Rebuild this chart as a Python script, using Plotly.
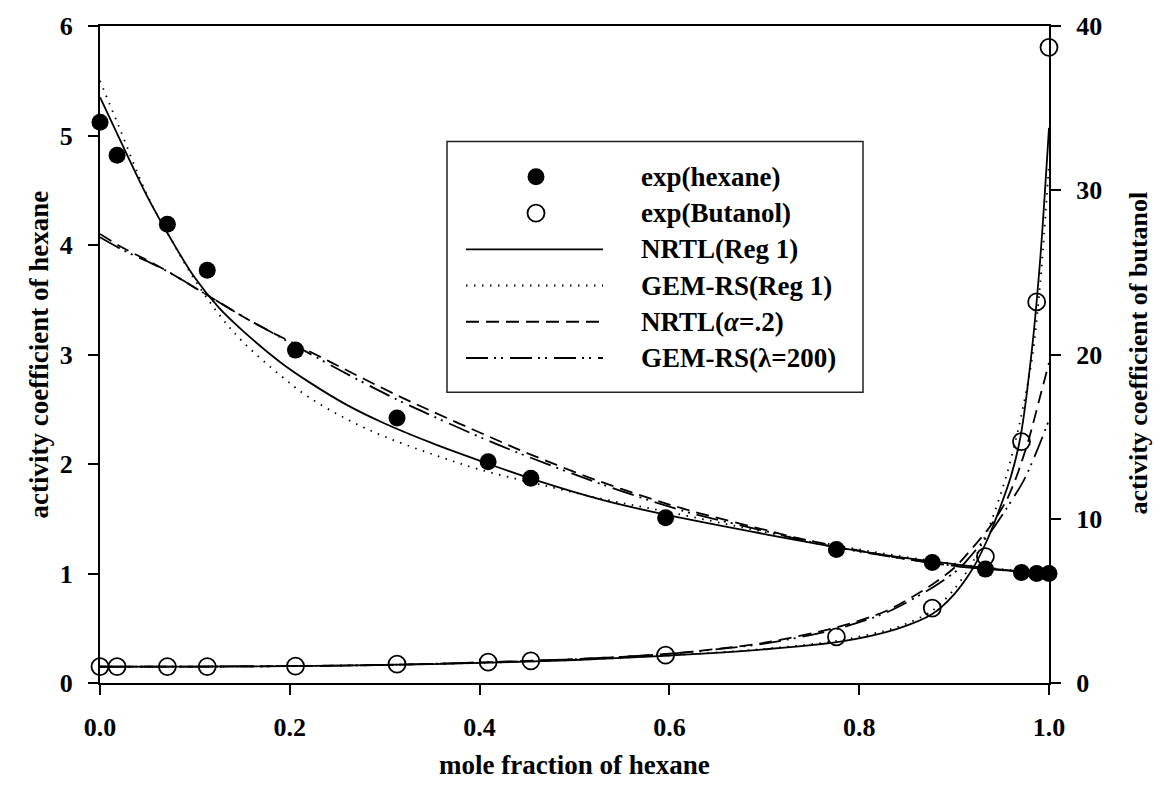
import plotly.graph_objects as go

# ---- experimental data (mole fraction of hexane) ----
x_exp = [0.0, 0.018, 0.071, 0.113, 0.206, 0.313, 0.409, 0.454, 0.596, 0.776, 0.877, 0.933, 0.971, 0.987, 1.0]
gamma_hexane_exp = [5.12, 4.82, 4.19, 3.77, 3.04, 2.42, 2.02, 1.87, 1.51, 1.22, 1.10, 1.04, 1.01, 1.00, 1.00]
gamma_butanol_exp = [1.0, 1.0, 1.0, 1.0, 1.03, 1.15, 1.27, 1.35, 1.70, 2.81, 4.56, 7.7, 14.7, 23.2, 38.7]

# ---- model curves, hexane (left axis) ----
x_nrtl1_hex = [0, 0.02, 0.05, 0.075, 0.1, 0.125, 0.15, 0.19, 0.22, 0.26, 0.30, 0.35, 0.40, 0.46, 0.53, 0.60, 0.70, 0.78, 0.85, 0.90, 0.95, 1.0]
y_nrtl1_hex = [5.35, 4.98, 4.44, 4.05, 3.70, 3.43, 3.22, 2.93, 2.75, 2.54, 2.37, 2.19, 2.03, 1.85, 1.67, 1.53, 1.36, 1.235, 1.14, 1.085, 1.035, 1.0]

x_gem1_hex = [0, 0.02, 0.05, 0.075, 0.1, 0.125, 0.15, 0.19, 0.22, 0.26, 0.30, 0.35, 0.40, 0.46, 0.53, 0.60, 0.70, 0.78, 0.85, 0.90, 0.95, 1.0]
y_gem1_hex = [5.50, 5.08, 4.45, 4.05, 3.68, 3.37, 3.12, 2.81, 2.61, 2.41, 2.25, 2.09, 1.95, 1.82, 1.68, 1.56, 1.38, 1.25, 1.15, 1.09, 1.04, 1.0]

x_nrtl2_hex = [0, 0.025, 0.05, 0.075, 0.1, 0.125, 0.15, 0.175, 0.2, 0.25, 0.3125, 0.35, 0.41, 0.45, 0.527, 0.6, 0.632, 0.7, 0.737, 0.8, 0.843, 0.9, 0.95, 1.0]
y_nrtl2_hex = [4.10, 3.97, 3.86, 3.74, 3.61, 3.48, 3.35, 3.23, 3.12, 2.90, 2.63, 2.48, 2.25, 2.10, 1.84, 1.63, 1.55, 1.40, 1.32, 1.21, 1.14, 1.07, 1.03, 1.0]

x_gem2_hex = [0, 0.025, 0.05, 0.075, 0.1, 0.125, 0.15, 0.175, 0.2, 0.25, 0.3125, 0.35, 0.41, 0.45, 0.527, 0.6, 0.632, 0.7, 0.737, 0.8, 0.843, 0.9, 0.95, 1.0]
y_gem2_hex = [4.07, 3.95, 3.85, 3.74, 3.61, 3.48, 3.35, 3.23, 3.11, 2.87, 2.59, 2.44, 2.21, 2.07, 1.82, 1.61, 1.53, 1.39, 1.31, 1.20, 1.14, 1.07, 1.03, 1.0]

# ---- model curves, butanol (right axis) ----
x_nrtl1_but = [0, 0.1, 0.2, 0.3, 0.4, 0.5, 0.6, 0.7, 0.78, 0.84, 0.877, 0.9, 0.92, 0.934, 0.946, 0.96, 0.97, 0.982, 0.991, 1.0]
y_nrtl1_but = [0.99, 1.0, 1.03, 1.1, 1.22, 1.40, 1.67, 2.05, 2.52, 3.3, 4.2, 5.4, 7.0, 8.6, 10.3, 12.6, 15.0, 20.3, 26.0, 33.8]

x_gem1_but = [0, 0.1, 0.2, 0.3, 0.4, 0.5, 0.6, 0.7, 0.78, 0.84, 0.877, 0.9, 0.92, 0.9375, 0.955, 0.969, 0.982, 0.991, 1.0]
y_gem1_but = [0.99, 1.0, 1.03, 1.1, 1.22, 1.40, 1.68, 2.08, 2.6, 3.4, 4.4, 5.7, 7.4, 9.6, 12.6, 15.8, 19.7, 24.5, 31.6]

x_nrtl2_but = [0, 0.1, 0.2, 0.3, 0.4, 0.5, 0.6, 0.7, 0.777, 0.829, 0.877, 0.9, 0.913, 0.9375, 0.955, 0.966, 0.979, 0.99, 1.0]
y_nrtl2_but = [1.0, 1.0, 1.03, 1.1, 1.25, 1.45, 1.78, 2.45, 3.4, 4.4, 6.0, 7.0, 7.8, 9.5, 11.1, 12.6, 14.9, 17.3, 19.5]

x_gem2_but = [0, 0.1, 0.2, 0.3, 0.4, 0.5, 0.6, 0.7, 0.777, 0.829, 0.877, 0.906, 0.92, 0.941, 0.955, 0.974, 0.987, 1.0]
y_gem2_but = [1.0, 1.0, 1.03, 1.1, 1.25, 1.45, 1.78, 2.4, 3.3, 4.3, 5.8, 7.0, 7.9, 9.4, 10.6, 12.4, 14.1, 16.0]

# ---- tick labels ----
x_ticks = [0.0, 0.2, 0.4, 0.6, 0.8, 1.0]
x_tick_text = ["0.0", "0.2", "0.4", "0.6", "0.8", "1.0"]
y_ticks = [0, 1, 2, 3, 4, 5, 6]
y2_ticks = [0, 10, 20, 30, 40]

# ---- legend labels ----
legend_labels = ["exp(hexane)", "exp(Butanol)", "NRTL(Reg 1)", "GEM-RS(Reg 1)",
                 "NRTL(<i>α</i>=.2)", "GEM-RS(λ=200)"]

FONT = "Liberation Serif"
BLACK = "#000000"
LW = 1.8
DASH_DOT = "1.5px,6.5px"
DASH_DASH = "13px,7px"
DASH_DDOT = "22px,6px,2px,5px,2px,7px"

fig = go.Figure()

model_styles = [
    (x_nrtl1_hex, y_nrtl1_hex, x_nrtl1_but, y_nrtl1_but, "solid"),
    (x_gem1_hex, y_gem1_hex, x_gem1_but, y_gem1_but, DASH_DOT),
    (x_nrtl2_hex, y_nrtl2_hex, x_nrtl2_but, y_nrtl2_but, DASH_DASH),
    (x_gem2_hex, y_gem2_hex, x_gem2_but, y_gem2_but, DASH_DDOT),
]
for xh, yh, xb, yb, dash in model_styles:
    fig.add_trace(go.Scatter(x=xh, y=yh, mode="lines", yaxis="y",
                             line=dict(color=BLACK, width=LW, dash=dash, shape="spline", smoothing=1.0),
                             showlegend=False, hoverinfo="skip"))
    fig.add_trace(go.Scatter(x=xb, y=yb, mode="lines", yaxis="y2",
                             line=dict(color=BLACK, width=LW, dash=dash, shape="spline", smoothing=0.8),
                             showlegend=False, hoverinfo="skip"))

# experimental points
fig.add_trace(go.Scatter(x=x_exp, y=gamma_hexane_exp, mode="markers", yaxis="y",
                         marker=dict(symbol="circle", size=17, color=BLACK, line=dict(width=0)),
                         cliponaxis=False, showlegend=False))
fig.add_trace(go.Scatter(x=x_exp, y=gamma_butanol_exp, mode="markers", yaxis="y2",
                         marker=dict(symbol="circle-open", size=17, color=BLACK, line=dict(width=1.8)),
                         cliponaxis=False, showlegend=False))

# ---- hand-built legend box (paper coordinates) ----
L, R, T, B = 100, 1049, 23, 683           # plot area in pixels
def px_x(p):
    return (p - L) / (R - L)
def px_y(p):
    return (B - p) / (B - T)

shapes = [dict(type="rect", xref="paper", yref="paper",
               x0=px_x(447), x1=px_x(863), y0=px_y(391), y1=px_y(139),
               line=dict(color="#222222", width=1.5), fillcolor="white", layer="below")]
row_y = [174.5 + 36.4 * i for i in range(6)]
annotations = []
for i, lab in enumerate(legend_labels):
    annotations.append(dict(xref="paper", yref="paper", x=px_x(639), y=px_y(row_y[i]),
                            xanchor="left", yanchor="middle", text="<b>%s</b>" % lab, showarrow=False,
                            font=dict(family=FONT, size=27, color=BLACK)))
# legend symbols
for i, filled in enumerate([True, False]):
    shapes.append(dict(type="circle", xref="paper", yref="paper", xsizemode="pixel", ysizemode="pixel",
                       xanchor=px_x(536), yanchor=px_y(row_y[i]), x0=-8.5, x1=8.5, y0=-8.5, y1=8.5,
                       fillcolor=BLACK if filled else "rgba(0,0,0,0)",
                       line=dict(color=BLACK, width=0 if filled else 1.8)))
for j, dd in enumerate(["solid", DASH_DOT, DASH_DASH, DASH_DDOT]):
    shapes.append(dict(type="line", xref="paper", yref="paper",
                       x0=px_x(466), x1=px_x(603), y0=px_y(row_y[j + 2]), y1=px_y(row_y[j + 2]),
                       line=dict(color=BLACK, width=LW, dash=dd)))

# axis titles
annotations += [
    dict(xref="paper", yref="paper", x=0.5, y=px_y(765), xanchor="center", yanchor="middle",
         text="<b>mole fraction of hexane</b>", showarrow=False, font=dict(family=FONT, size=27, color=BLACK)),
    dict(xref="paper", yref="paper", x=px_x(38), y=0.5, xanchor="center", yanchor="middle", textangle=-90,
         text="<b>activity coefficient of hexane</b>", showarrow=False, font=dict(family=FONT, size=27, color=BLACK)),
    dict(xref="paper", yref="paper", x=px_x(1139), y=px_y(352), xanchor="center", yanchor="middle", textangle=-90,
         text="<b>activity coefficient of butanol</b>", showarrow=False, font=dict(family=FONT, size=26, color=BLACK)),
]

tickfont = dict(family=FONT, size=26, color=BLACK, weight="bold")
fig.update_layout(
    width=1154, height=792,
    margin=dict(l=L, r=1154 - R, t=T, b=792 - B),
    paper_bgcolor="white", plot_bgcolor="white",
    showlegend=False,
    shapes=shapes, annotations=annotations,
    xaxis=dict(range=[0, 1], tickvals=x_ticks, ticktext=x_tick_text, ticks="outside", ticklen=10,
               tickwidth=2, tickcolor=BLACK, showline=True, linewidth=2, linecolor=BLACK, mirror=True,
               showgrid=False, zeroline=False, tickfont=tickfont, ticklabelstandoff=10),
    yaxis=dict(range=[0, 6], tickvals=y_ticks, ticks="outside", ticklen=10, tickwidth=2, tickcolor=BLACK,
               showline=True, linewidth=2, linecolor=BLACK, showgrid=False, zeroline=False,
               tickfont=tickfont, ticklabelstandoff=10),
    yaxis2=dict(range=[0, 40], tickvals=y2_ticks, overlaying="y", side="right", ticks="outside", ticklen=10,
                tickwidth=2, tickcolor=BLACK, showline=True, linewidth=2, linecolor=BLACK, showgrid=False,
                zeroline=False, tickfont=tickfont, ticklabelstandoff=10),
)

fig.write_html("out.html")
